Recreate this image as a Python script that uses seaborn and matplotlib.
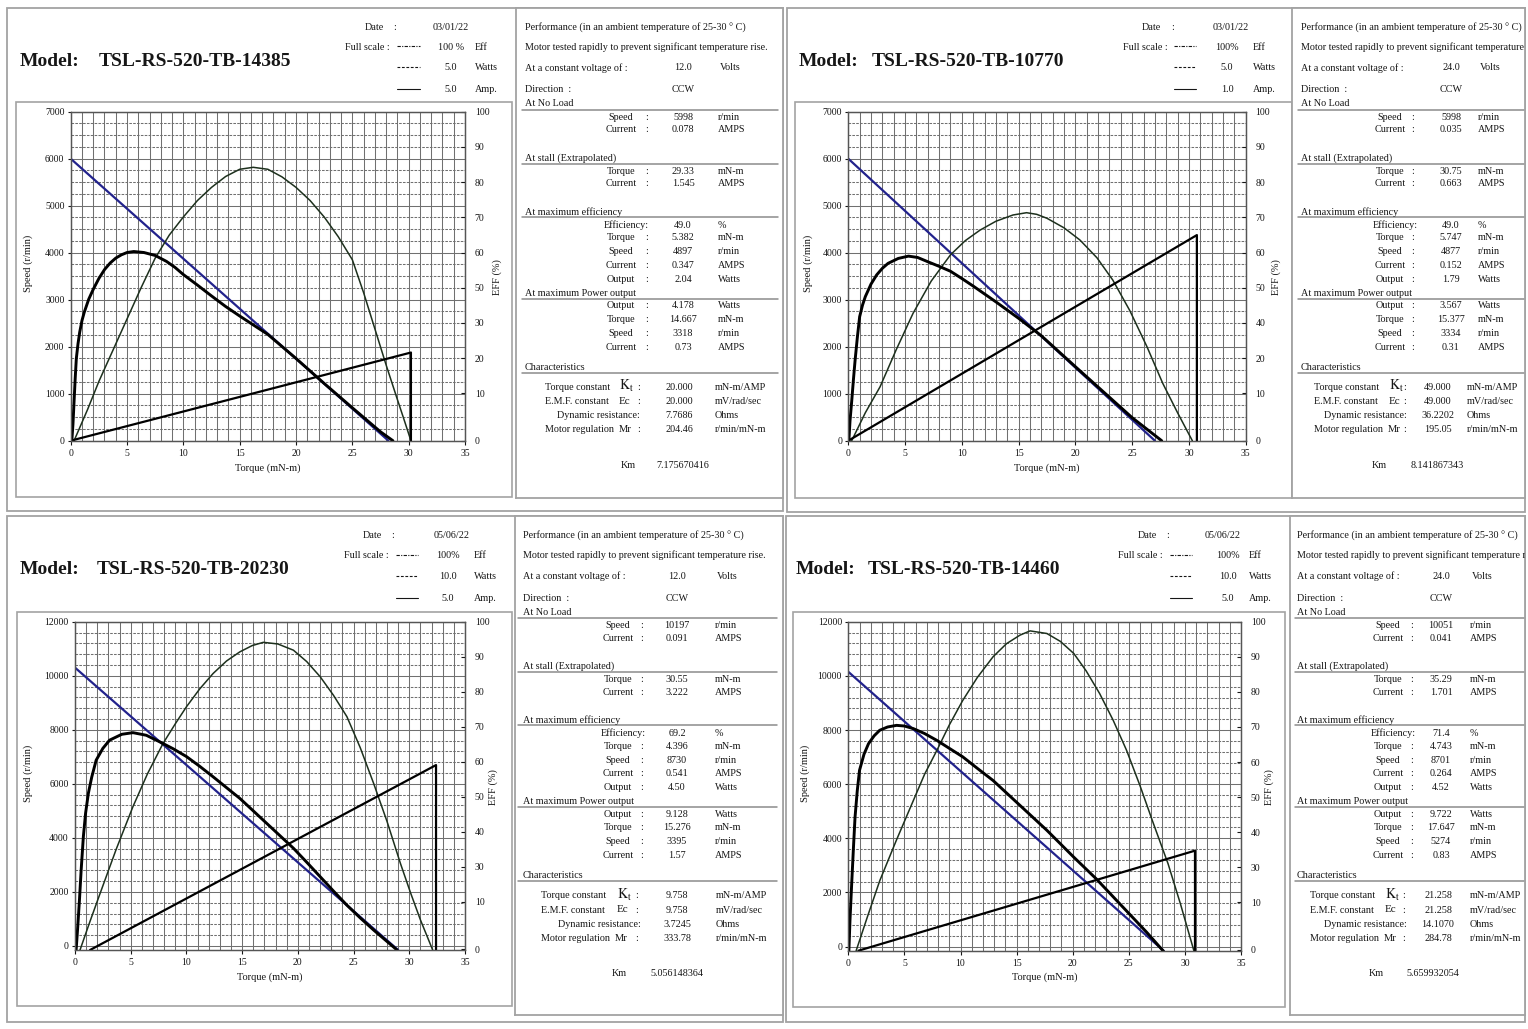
import numpy as np
import seaborn as sns
import matplotlib.pyplot as plt
from matplotlib.patches import Rectangle
from matplotlib.ticker import MultipleLocator, FixedLocator

W, H = 1528, 1029
INK = '#161616'
EDGE = '#a3a3a3'
GRIDC = '#707070'
FS = 7.3

# ---------------- sheet values ----------------
models = ["TSL-RS-520-TB-14385", "TSL-RS-520-TB-10770", "TSL-RS-520-TB-20230", "TSL-RS-520-TB-14460"]
dates = ["03/01/22", "03/01/22", "05/06/22", "05/06/22"]
scale_eff = ["100 %", "100%", "100%", "100%"]
scale_watts = ["5.0", "5.0", "10.0", "10.0"]
scale_amps = ["5.0", "1.0", "5.0", "5.0"]
voltages = ["12.0", "24.0", "12.0", "24.0"]
directions = ["CCW", "CCW", "CCW", "CCW"]
noload_speed = ["5998", "5998", "10197", "10051"]
noload_current = ["0.078", "0.035", "0.091", "0.041"]
stall_torque = ["29.33", "30.75", "30.55", "35.29"]
stall_current = ["1.545", "0.663", "3.222", "1.701"]
maxeff_eff = ["49.0", "49.0", "69.2", "71.4"]
maxeff_torque = ["5.382", "5.747", "4.396", "4.743"]
maxeff_speed = ["4897", "4877", "8730", "8701"]
maxeff_current = ["0.347", "0.152", "0.541", "0.264"]
maxeff_output = ["2.04", "1.79", "4.50", "4.52"]
maxpow_output = ["4.178", "3.567", "9.128", "9.722"]
maxpow_torque = ["14.667", "15.377", "15.276", "17.647"]
maxpow_speed = ["3318", "3334", "3395", "5274"]
maxpow_current = ["0.73", "0.31", "1.57", "0.83"]
kt_vals = ["20.000", "49.000", "9.758", "21.258"]
ec_vals = ["20.000", "49.000", "9.758", "21.258"]
dyn_res = ["7.7686", "36.2202", "3.7245", "14.1070"]
mot_reg = ["204.46", "195.05", "333.78", "284.78"]
km_vals = ["7.175670416", "8.141867343", "5.056148364", "5.659932054"]

# ---------------- curves ----------------
# torque in mN-m, speed in r/min, eff / power / current in % of full scale
# sheet 1 (14385)
spd_t_1 = [0, 28.2]
spd_1 = [6000, 0]
eff_t_1 = [0.1, 0.2, 0.3, 0.4, 0.5, 0.65, 0.8, 1.0, 1.2, 1.6, 2.0, 2.5, 3.0, 3.5, 4.0, 4.5, 5.0, 5.6,
           6.5, 7.5, 8.5, 9.25, 10, 11.25, 12.5, 13.75, 15, 16.25, 17.5, 20, 22.5, 25, 27.5, 28.6]
eff_1 = [0, 5, 12, 19, 25, 29.5, 33, 36.5, 39, 43, 46, 49.3, 52, 54, 55.5, 56.5, 57.2, 57.5,
         57.2, 56.3, 54.5, 52.7, 50.5, 47.3, 44, 40.8, 37.9, 35.1, 32.3, 25, 17.4, 10, 2.7, 0]
pow_t_1 = [0.3, 1.5, 2.5, 3.75, 5, 6.25, 7.5, 8.75, 10, 11.25, 12.5, 13.75, 15, 16.2, 17.5, 18.75,
           20, 21.25, 22.5, 23.75, 25, 26, 27, 28, 29, 29.6, 30.2]
pow_1 = [0, 9.5, 18, 27.5, 37, 46.5, 55.5, 62.5, 68, 73, 77, 80.3, 82.5, 83.1, 82.5, 80.2,
         77, 73, 68, 62, 55, 45, 34, 23, 12.5, 6.3, 0]
cur_t_1 = [0, 30.2, 30.2]
cur_1 = [0, 26.8, 0]

# sheet 2 (10770)
spd_t_2 = [0, 27.0]
spd_2 = [6000, 0]
eff_t_2 = [0.05, 0.15, 0.3, 0.45, 0.6, 0.8, 1.0, 1.25, 1.5, 2.0, 2.5, 3.0, 3.5, 4.4, 5.3, 6.1, 7, 8,
           9, 10, 11, 12, 13, 14, 15, 17, 20, 23, 25, 27.6]
eff_2 = [0, 6, 12, 18.5, 24.5, 31.5, 37.7, 41.2, 43.8, 47.6, 50.4, 52.4, 53.9, 55.4, 56.1, 55.7, 54.4, 53,
         51.5, 49.3, 47, 44.6, 42.2, 39.7, 37.2, 31.9, 22.5, 13.2, 7, 0]
pow_t_2 = [0.3, 1.5, 2.8, 4.2, 5.7, 7.3, 9, 10.3, 11.6, 13, 14.5, 15.7, 16.6, 17.5, 19, 20.4,
           21.9, 23.3, 24.8, 26.3, 27.7, 29, 30.3]
pow_2 = [0, 8.5, 16.4, 27.5, 38.7, 48.5, 56.5, 60.8, 64, 66.7, 68.6, 69.3, 68.8, 67.6, 64.7, 61,
         55.6, 48.8, 39.5, 28.6, 17.4, 8.5, 0]
cur_t_2 = [0, 30.7, 30.7]
cur_2 = [0, 62.5, 0]

# sheet 3 (20230)
spd_t_3 = [0, 29.0]
spd_3 = [10300, -150]
eff_t_3 = [0.1, 0.25, 0.4, 0.55, 0.75, 0.95, 1.2, 1.5, 1.9, 2.5, 3.1, 4.2, 5.2, 6.4, 7.6, 8.8, 10,
           11.2, 12.4, 13.6, 14.8, 16, 17.2, 18.4, 19.6, 20.8, 22, 23.2, 24.4, 25.6, 26.8, 28.9]
eff_3 = [-0.3, 7, 15, 24, 34.3, 41.5, 47.6, 52.5, 57.7, 61.3, 63.8, 65.6, 66.1, 65.3, 63.3, 61.2, 58.8,
         55.8, 52.6, 49.3, 46, 42.2, 38.4, 34.6, 30.8, 26.5, 22.1, 17.7, 13.4, 9.5, 5.8, -0.3]
pow_t_3 = [0.45, 1.3, 2.2, 3.7, 5.2, 6.5, 7.9, 9, 10, 11.2, 12.4, 13.6, 14.8, 15.9, 16.9, 18.2,
           19.6, 20.8, 22, 23.2, 24.4, 25.6, 26.8, 28, 29.2, 30.1, 31, 32.1]
pow_3 = [-0.3, 8, 16.5, 30.5, 43.5, 53.5, 62.8, 68.8, 74, 79.5, 84.2, 88, 90.8, 92.7, 93.7, 93.2,
         91.3, 87.8, 83.2, 77.5, 71, 61.5, 50.6, 39, 26.2, 17.3, 8.9, -0.3]
cur_t_3 = [1.35, 32.4, 32.4]
cur_3 = [-0.3, 56.2, -0.3]

# sheet 4 (14460)
spd_t_4 = [0, 28.1]
spd_4 = [10150, -150]
eff_t_4 = [0.05, 0.15, 0.3, 0.45, 0.6, 0.8, 1.0, 1.4, 1.8, 2.3, 2.8, 3.5, 4.3, 5.0, 5.8, 6.8, 7.9, 9,
           10.2, 11.5, 12.9, 14.1, 15.3, 16.5, 17.7, 18.9, 20.1, 22.1, 24.5, 26.6, 28.1]
eff_4 = [-0.5, 9, 20, 30.5, 40.4, 48.5, 54.7, 59.6, 62.8, 65.2, 66.9, 67.9, 68.4, 68.2, 67.4, 65.9, 63.8, 61.4,
         58.8, 55.3, 51.6, 47.8, 44, 40.2, 36.4, 32.3, 28.2, 21.6, 12.9, 5.3, -0.5]
pow_t_4 = [0.7, 1.7, 2.8, 4.3, 5.8, 6.8, 7.9, 9, 10.2, 11.5, 12.9, 14.1, 15.3, 16.2, 17.7, 18.9,
           20.1, 21.2, 22.4, 23.6, 24.8, 26, 27.2, 28.5, 29.6, 30.8]
pow_4 = [-0.3, 10, 21, 33.5, 45.5, 53.5, 60.8, 68.5, 76, 83, 89.3, 93.3, 95.9, 97.2, 96.4, 94,
         90.3, 85, 78.1, 70, 60.8, 50, 38.4, 26.2, 14, -0.3]
cur_t_4 = [0.9, 30.9, 30.9]
cur_4 = [-0.3, 30.2, -0.3]

curves = [
    (spd_t_1, spd_1, eff_t_1, eff_1, pow_t_1, pow_1, cur_t_1, cur_1),
    (spd_t_2, spd_2, eff_t_2, eff_2, pow_t_2, pow_2, cur_t_2, cur_2),
    (spd_t_3, spd_3, eff_t_3, eff_3, pow_t_3, pow_3, cur_t_3, cur_3),
    (spd_t_4, spd_4, eff_t_4, eff_4, pow_t_4, pow_4, cur_t_4, cur_4),
]

speed_min = [0, 0, -150, -150]
speed_max = [7000, 7000, 12000, 12000]
speed_step = [1000, 1000, 2000, 2000]
speed_minor = [250, 250, 400, 400]
eff_min = [0, 0, -0.3, -0.3]
eff_labels = [
    ["100", "90", "80", "70", "60", "50", "30", "20", "10", "0"],
    ["100", "90", "80", "70", "60", "50", "40", "20", "10", "0"],
    ["100", "90", "80", "70", "60", "50", "40", "30", "10", "0"],
    ["100", "90", "80", "70", "60", "50", "40", "30", "10", "0"],
]

# ---------------- layout (pixels) ----------------
layouts = [
    dict(sheet=(7, 8, 783, 511), chart=(16, 102, 512, 497), axes=(70.7, 111.7, 465, 440.7),
         col=(516, 8, 783, 498), dy=0, ylab=(33, 263), efflab=(492, 277), xlab_y=463,
         head=dict(date_l=365, date_c=395, date_v=451, fs_r=390, dash=(397, 420), sv=451, su=475, m_l=20, m_c=99),
         tx=525, lab_c=621, colon=647, val=683, unit=718, ch_l=545, k_x=619, ch_colon=639,
         ch_val=679, ch_unit=715, dyn_r=640, km_x=628, km_v=683, line=(522, 778)),
    dict(sheet=(787, 8, 1525, 512), chart=(795, 102, 1292, 498), axes=(848.3, 111.7, 1245.7, 440.7),
         col=(1292, 8, 1525, 498), dy=0, ylab=(813, 263), efflab=(1271, 277), xlab_y=463,
         head=dict(date_l=1142, date_c=1173, date_v=1231, fs_r=1168, dash=(1174, 1196), sv=1227, su=1253, m_l=799, m_c=872),
         tx=1301, lab_c=1390, colon=1413, val=1451, unit=1478, ch_l=1314, k_x=1389, ch_colon=1405,
         ch_val=1438, ch_unit=1467, dyn_r=1407, km_x=1379, km_v=1437, line=(1298, 1525)),
    dict(sheet=(7, 516, 783, 1022), chart=(17, 612, 512, 1006), axes=(75, 621.7, 465, 950),
         col=(515, 516, 783, 1015), dy=508.5, ylab=(33, 773), efflab=(488, 787), xlab_y=972,
         head=dict(date_l=363, date_c=393, date_v=452, fs_r=389, dash=(396, 418), sv=448, su=474, m_l=20, m_c=97),
         tx=523, lab_c=618, colon=642, val=677, unit=715, ch_l=541, k_x=617, ch_colon=637,
         ch_val=677, ch_unit=716, dyn_r=641, km_x=619, km_v=677, line=(518, 777)),
    dict(sheet=(786, 516, 1525, 1022), chart=(793, 612, 1285, 1007), axes=(848.3, 621.7, 1241, 950.7),
         col=(1290, 516, 1525, 1015), dy=508.5, ylab=(810, 773), efflab=(1264, 787), xlab_y=972,
         head=dict(date_l=1138, date_c=1168, date_v=1223, fs_r=1163, dash=(1170, 1192), sv=1228, su=1249, m_l=796, m_c=868),
         tx=1297, lab_c=1388, colon=1412, val=1441, unit=1470, ch_l=1310, k_x=1385, ch_colon=1404,
         ch_val=1438, ch_unit=1470, dyn_r=1407, km_x=1376, km_v=1433, line=(1295, 1525)),
]

sns.set_style("white")
plt.rcParams['font.family'] = ['Liberation Serif', 'DejaVu Serif']
plt.rcParams['mathtext.fontset'] = 'stix'

fig = plt.figure(figsize=(W / 100, H / 100), dpi=100)
bg = fig.add_axes([0, 0, 1, 1])
bg.set_xlim(0, W)
bg.set_ylim(H, 0)
bg.axis('off')


def frac(x0, y0, x1, y1):
    return [x0 / W, 1 - y1 / H, (x1 - x0) / W, (y1 - y0) / H]


def box(r, lw=1.3):
    x0, y0, x1, y1 = r
    bg.add_patch(Rectangle((x0, y0), x1 - x0, y1 - y0, fill=False, ec=EDGE, lw=lw))


def draw_header(i, L):
    h = L['head']
    dy = L['dy']
    bg.text(h['m_l'], 61 + dy, "Model:", fontsize=14, fontweight='bold', va='center', color=INK)
    bg.text(h['m_c'], 61 + dy, models[i], fontsize=14, fontweight='bold', va='center', color=INK)
    kw = dict(fontsize=FS, va='center', color=INK)
    bg.text(h['date_l'], 27 + dy, "Date", **kw)
    bg.text(h['date_c'], 27 + dy, ":", ha='center', **kw)
    bg.text(h['date_v'], 27 + dy, dates[i], ha='center', **kw)
    bg.text(h['fs_r'], 47 + dy, "Full scale :", ha='right', **kw)
    for yy, v, u, ls in [(47, scale_eff[i], "Eff", (0, (3, 1.2, 1, 1.2))),
                         (68, scale_watts[i], "Watts", (0, (2.5, 1.5))),
                         (90, scale_amps[i], "Amp.", '-')]:
        bg.plot(h['dash'], [yy - 1 + dy] * 2, color=INK, lw=0.8, ls=ls)
        bg.text(h['sv'], yy + dy, v, ha='center', **kw)
        bg.text(h['su'], yy + dy, u, ha='left', **kw)


def draw_column(i, L):
    x0, y0, x1, y1 = L['col']
    cax = fig.add_axes(frac(x0, y0, x1, y1))
    cax.set_xlim(x0, x1)
    cax.set_ylim(y1, y0)
    cax.set_xticks([])
    cax.set_yticks([])
    for s in cax.spines.values():
        s.set_color(EDGE)
        s.set_linewidth(1.3)
    dy = L['dy']

    def t(x, y, s, ha='left', size=FS):
        # text is clipped by the column frame, as on the printed sheet
        cax.text(x, y + dy, s, ha=ha, va='center', fontsize=size, color=INK, clip_on=True)

    t(L['tx'], 28, "Performance (in an ambient temperature of 25-30 \u00b0 C)")
    t(L['tx'], 47, "Motor tested rapidly to prevent significant temperature rise.")
    t(L['tx'], 68, "At a constant voltage of :")
    t(L['val'], 68, voltages[i], ha='center')
    t(L['unit'] + 2, 68, "Volts")
    t(L['tx'], 90, "Direction  :")
    t(L['val'], 90, directions[i], ha='center')

    for yy, name, ly in [(104, "At No Load", 110), (158, "At stall (Extrapolated)", 164),
                         (212, "At maximum efficiency", 217), (293, "At maximum Power output", 299),
                         (367, "Characteristics", 373)]:
        t(L['tx'], yy, name)
        cax.plot(L['line'], [ly + dy] * 2, color='#8c8c8c', lw=1.1, clip_on=True)

    rows = [(117, "Speed", noload_speed, "r/min"), (130, "Current", noload_current, "AMPS"),
            (171, "Torque", stall_torque, "mN-m"), (184, "Current", stall_current, "AMPS"),
            (238, "Torque", maxeff_torque, "mN-m"), (252, "Speed", maxeff_speed, "r/min"),
            (265, "Current", maxeff_current, "AMPS"), (279, "Output", maxeff_output, "Watts"),
            (306, "Output", maxpow_output, "Watts"), (319, "Torque", maxpow_torque, "mN-m"),
            (333, "Speed", maxpow_speed, "r/min"), (347, "Current", maxpow_current, "AMPS")]
    for yy, name, vals, unit in rows:
        t(L['lab_c'], yy, name, ha='center')
        t(L['colon'], yy, ":", ha='center')
        t(L['val'], yy, vals[i], ha='center')
        t(L['unit'], yy, unit)
    t(L['lab_c'] + 5, 225, "Efficiency:", ha='center')
    t(L['val'], 225, maxeff_eff[i], ha='center')
    t(L['unit'], 225, "%")

    t(L['ch_l'], 387, "Torque constant")
    t(L['k_x'], 386, r"$\mathrm{K_t}$", size=10)
    t(L['ch_l'], 402, "E.M.F. constant")
    t(L['k_x'], 401, "Ec", size=8)
    t(L['dyn_r'], 416, "Dynamic resistance:", ha='right')
    t(L['ch_l'], 430, "Motor regulation")
    t(L['ch_l'] + 74, 430, "Mr", size=7.6)
    for yy, vals, unit in [(387, kt_vals, "mN-m/AMP"), (402, ec_vals, "mV/rad/sec"),
                           (416, dyn_res, "Ohms"), (430, mot_reg, "r/min/mN-m")]:
        if yy != 416:
            t(L['ch_colon'], yy, ":", ha='center')
        t(L['ch_val'], yy, vals[i], ha='center')
        t(L['ch_unit'], yy, unit)
    t(L['km_x'], 465, "Km", ha='center')
    t(L['km_v'], 465, km_vals[i], ha='center')


def draw_chart(i, L):
    x0, y0, x1, y1 = L['axes']
    ax = fig.add_axes(frac(x0, y0, x1, y1))
    ax2 = ax.twinx()
    st, sv, et, ev, pt, pv, ct, cv = curves[i]
    line_kw = dict(sort=False, estimator=None, solid_joinstyle='round', solid_capstyle='round')
    sns.lineplot(x=st, y=sv, ax=ax, color='#22228c', linewidth=1.6, **line_kw)
    sns.lineplot(x=pt, y=pv, ax=ax2, color='#1d301d', linewidth=1.1, **line_kw)
    sns.lineplot(x=ct, y=cv, ax=ax2, color='black', linewidth=1.6, **line_kw)
    sns.lineplot(x=et, y=ev, ax=ax2, color='black', linewidth=2.1, **line_kw)

    ax.set_xlim(0, 35)
    ax.set_ylim(speed_min[i], speed_max[i])
    ax2.set_ylim(eff_min[i], 100)

    ax.set_xticks(range(0, 36, 5))
    ax.xaxis.set_minor_locator(MultipleLocator(1))
    ax.yaxis.set_major_locator(MultipleLocator(speed_step[i]))
    ax.yaxis.set_minor_locator(MultipleLocator(speed_minor[i]))
    ax.set_axisbelow(True)
    ax.grid(which='both', axis='x', color=GRIDC, lw=0.75)
    ax.grid(which='major', axis='y', color=GRIDC, lw=0.75)
    ax.grid(which='minor', axis='y', color=GRIDC, lw=0.75, ls=(0, (2.5, 1.2)))

    pos = [100 - 10.7 * k for k in range(9)] + [0]
    ax2.yaxis.set_major_locator(FixedLocator(pos))
    ax2.set_yticklabels(eff_labels[i])
    ax2.grid(False)

    ax.tick_params(axis='x', which='major', bottom=True, length=3, width=0.8, pad=3,
                   labelsize=7, colors=INK)
    ax.tick_params(axis='y', which='major', left=True, length=2.5, width=0.8, pad=2,
                   labelsize=7, colors=INK)
    ax.tick_params(which='minor', length=0)
    ax2.tick_params(axis='y', right=True, direction='in', length=3, width=0.8, pad=7,
                    labelsize=7, colors=INK)
    for a in (ax, ax2):
        for s in a.spines.values():
            s.set_color('#555555')
            s.set_linewidth(0.9)

    w, h = x1 - x0, y1 - y0
    ax.set_xlabel("Torque (mN-m)", fontsize=7.5, color=INK)
    ax.xaxis.set_label_coords(0.5, -(L['xlab_y'] - y1) / h)
    ax.set_ylabel("Speed (r/min)", fontsize=7.5, color=INK)
    ax.yaxis.set_label_coords((L['ylab'][0] - x0) / w, (y1 - L['ylab'][1]) / h)
    ax2.set_ylabel("EFF (%)", fontsize=7.5, color=INK)
    ax2.yaxis.set_label_coords((L['efflab'][0] - x0) / w, (y1 - L['efflab'][1]) / h)


for i, L in enumerate(layouts):
    box(L['sheet'])
    box(L['chart'], lw=1.2)
    draw_header(i, L)
    draw_column(i, L)
    draw_chart(i, L)

fig.savefig("out.png", dpi=100, facecolor='white')
